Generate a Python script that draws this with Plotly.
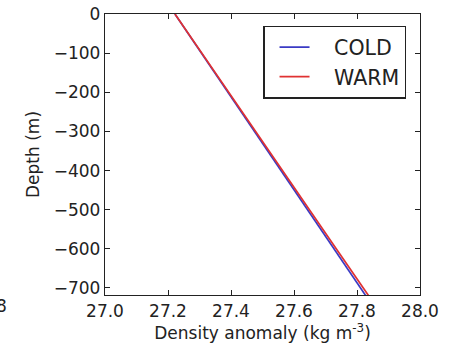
import plotly.graph_objects as go

# Density profiles (kg m^-3) against depth (m)
depth = [0, -100, -200, -300, -400, -500, -600, -700, -720]
cold = [27.222, 27.306, 27.390, 27.475, 27.559, 27.643, 27.727, 27.811, 27.828]
warm = [27.222, 27.307, 27.393, 27.478, 27.564, 27.649, 27.734, 27.820, 27.837]

x_ticks = [27.0, 27.2, 27.4, 27.6, 27.8, 28.0]
y_ticks = [0, -100, -200, -300, -400, -500, -600, -700]

font = "DejaVu Sans"
ink = "#222"
pad = "\u00a0" * 3  # gap between legend line and label

fig = go.Figure()
fig.add_trace(go.Scatter(x=cold, y=depth, mode="lines", name=pad + "COLD",
                         line=dict(color="#3a3ac4", width=1.7)))
fig.add_trace(go.Scatter(x=warm, y=depth, mode="lines", name=pad + "WARM",
                         line=dict(color="#e03232", width=1.7)))

axis_common = dict(
    showline=True, linecolor=ink, linewidth=1.4, mirror="ticks",
    ticks="inside", ticklen=5, tickcolor=ink, tickwidth=1.2,
    showgrid=False, zeroline=False, automargin=False,
    tickfont=dict(family=font, size=17, color=ink),
)

fig.update_layout(
    width=467, height=348,
    margin=dict(l=105, r=47, t=14, b=53),
    paper_bgcolor="white", plot_bgcolor="white",
    font=dict(family=font, color=ink),
    xaxis=dict(range=[27.0, 28.0], tickvals=x_ticks,
               ticktext=[f"{v:.1f}" for v in x_ticks],
               title=dict(text="Density anomaly (kg m<sup>-3</sup>)",
                          font=dict(family=font, size=17), standoff=5),
               **axis_common),
    yaxis=dict(range=[-718, 0], tickvals=y_ticks,
               ticktext=[str(v).replace("-", "\u2212") for v in y_ticks],
               title=dict(text="Depth (m)", font=dict(family=font, size=17),
                          standoff=9),
               **axis_common),
    legend=dict(x=0.502, y=0.958, xanchor="left", yanchor="top",
                bordercolor=ink, borderwidth=1.4, bgcolor="white",
                font=dict(family=font, size=20.5, color=ink),
                itemwidth=30, indentation=10),
    showlegend=True,
)

# neighbouring panel's last tick label, cut by the left edge
fig.add_annotation(text="27.8", xref="paper", yref="paper",
                   x=(9 - 105) / 315, y=(295 - 306) / 281,
                   xanchor="right", yanchor="middle",
                   showarrow=False, font=dict(family=font, size=17, color=ink))

fig.write_html("out.html")
